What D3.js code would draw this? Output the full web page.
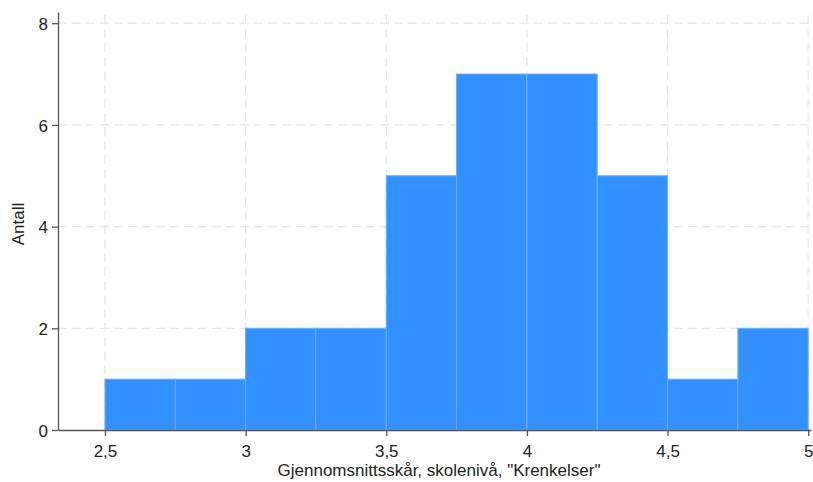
<!DOCTYPE html>
<html>
<head>
<meta charset="utf-8">
<script src="https://cdn.jsdelivr.net/npm/d3@7"></script>
<style>
html,body{margin:0;padding:0;background:#fff;}
svg{display:block;font-family:"Liberation Sans",Arial,sans-serif;}
</style>
</head>
<body>
<svg id="chart" width="813" height="482"></svg>
<script>
const binStarts = [2.5, 2.75, 3, 3.25, 3.5, 3.75, 4, 4.25, 4.5, 4.75];
const binWidth = 0.25;
const counts = [1, 1, 2, 2, 5, 7, 7, 5, 1, 2];
const xTicks = [2.5, 3, 3.5, 4, 4.5, 5];
const yTicks = [0, 2, 4, 6, 8];
const xTitle = 'Gjennomsnittsskår, skolenivå, "Krenkelser"';
const yTitle = 'Antall';

const svg = d3.select('#chart');
const x = d3.scaleLinear().domain([2.333, 5.01]).range([58, 811]);
const y = d3.scaleLinear().domain([0, 8.22]).range([430, 12]);
const fmt = d => String(d).replace('.', ',');
const FS = '17px';

// gridlines
const grid = svg.append('g');
grid.selectAll('line.h').data(yTicks.filter(d => d > 0)).join('line')
  .attr('x1', x.range()[0]).attr('x2', x.range()[1])
  .attr('y1', d => y(d)).attr('y2', d => y(d))
  .attr('stroke', '#e6e6e6').attr('stroke-width', 1.2).attr('stroke-dasharray', '9,5');
grid.selectAll('line.v').data(xTicks).join('line')
  .attr('x1', d => x(d)).attr('x2', d => x(d))
  .attr('y1', y.range()[0]).attr('y2', y.range()[1])
  .attr('stroke', '#e6e6e6').attr('stroke-width', 1.2).attr('stroke-dasharray', '9,5');

// bars
svg.append('g').selectAll('rect').data(counts).join('rect')
  .attr('x', (d, i) => x(binStarts[i]))
  .attr('width', (d, i) => x(binStarts[i] + binWidth) - x(binStarts[i]))
  .attr('y', d => y(d))
  .attr('height', d => y(0) - y(d))
  .attr('fill', '#3391ff')
  .attr('stroke', '#6aaeff').attr('stroke-width', 1);

// axes
const xAxis = svg.append('g').attr('transform', 'translate(0,430)')
  .call(d3.axisBottom(x).tickValues(xTicks).tickFormat(fmt).tickSize(6).tickSizeOuter(0));
const yAxis = svg.append('g').attr('transform', 'translate(58,0)')
  .call(d3.axisLeft(y).tickValues(yTicks).tickSize(6).tickSizeOuter(0));
[xAxis, yAxis].forEach(a => {
  a.select('.domain').attr('stroke', '#555').attr('stroke-width', 1.3);
  a.selectAll('.tick line').attr('stroke', '#555').attr('stroke-width', 1.3);
  a.selectAll('.tick text').attr('fill', '#222').style('font-size', FS)
    .style('font-family', '"Liberation Sans",Arial,sans-serif');
});
xAxis.selectAll('.tick text').attr('dy', null).attr('y', 27);
yAxis.selectAll('.tick text').attr('x', -10).attr('dy', '0.36em');

svg.append('text').attr('x', 439).attr('y', 476).attr('text-anchor', 'middle')
  .attr('fill', '#222').style('font-size', FS).text(xTitle);
svg.append('text').attr('transform', 'translate(24,224) rotate(-90)').attr('text-anchor', 'middle')
  .attr('fill', '#222').style('font-size', FS).text(yTitle);
</script>
</body>
</html>
